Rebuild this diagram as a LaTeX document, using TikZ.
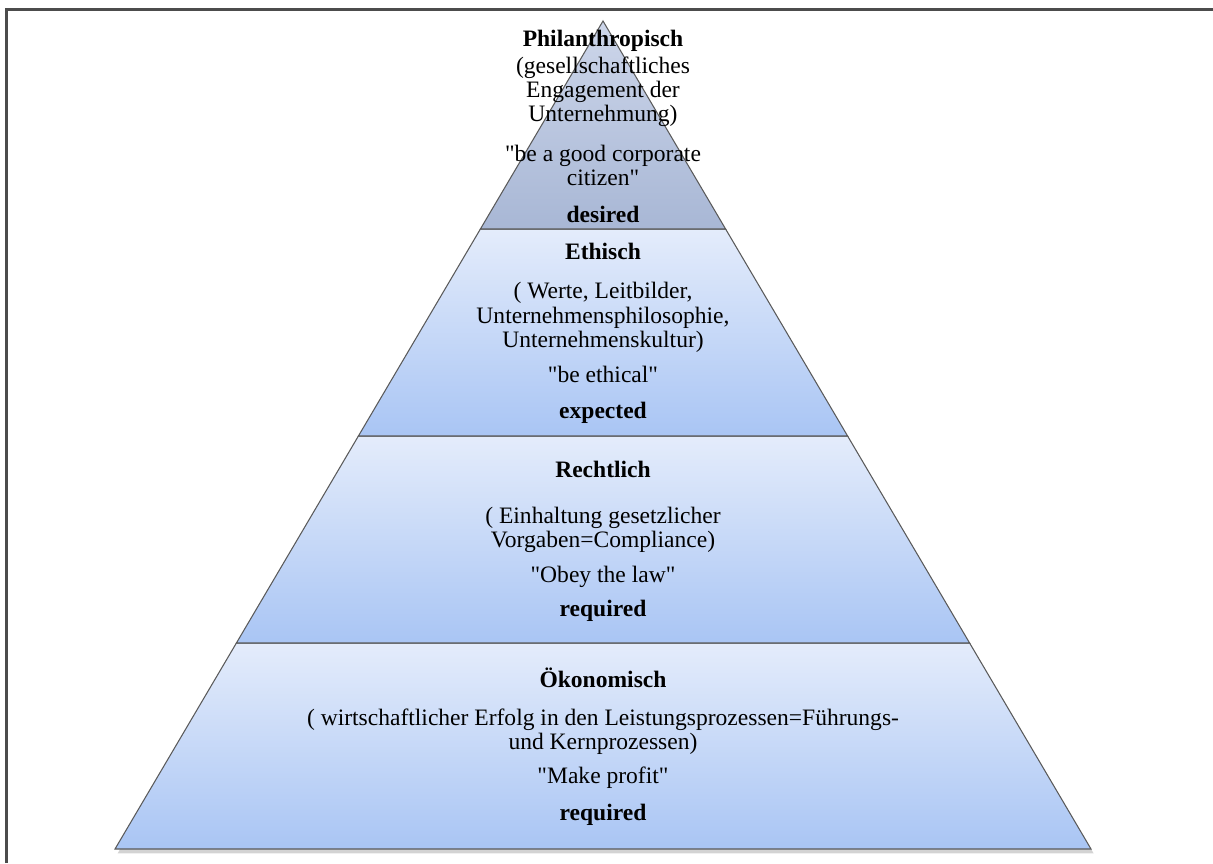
\documentclass[tikz,border=0pt]{standalone}
\usepackage{fontspec}
\setmainfont{Liberation Serif}[Ligatures=TeXOff]
\usetikzlibrary{shadows}

\definecolor{bandTop}{HTML}{E4ECFB}
\definecolor{bandBottom}{HTML}{A9C5F4}
\definecolor{tipTop}{HTML}{CDD6EA}
\definecolor{tipBottom}{HTML}{A8B7D5}
\definecolor{edgeGray}{HTML}{5A5A5A}

\begin{document}
\begin{tikzpicture}[x=0.02cm,y=-0.02cm]
    \tikzstyle{Band} = [
            draw=edgeGray,
            line width=0.6pt,
            top color=bandTop,
            bottom color=bandBottom
    ];
    \tikzstyle{Tip} = [
            Band,
            top color=tipTop,
            bottom color=tipBottom
    ];
    \tikzstyle{Frame} = [
            draw=black!70,
            line width=1.2pt
    ];
    \tikzstyle{Label} = [
            align=center,
            inner sep=0pt,
            font={\fontsize{13.4}{13.7}\selectfont}
    ];

    \useasboundingbox (0,0) rectangle (1213,863);
    \draw[Frame] (6.5,863) -- (6.5,9.5) -- (1213,9.5);

    % pyramid corners
    \coordinate (Apex) at (603,21);
    \coordinate (L1) at (480.4,229); \coordinate (R1) at (725.6,229);
    \coordinate (L2) at (358.4,436); \coordinate (R2) at (847.6,436);
    \coordinate (L3) at (236.4,643); \coordinate (R3) at (969.6,643);
    \coordinate (L4) at (115,849);   \coordinate (R4) at (1091,849);

    \shade[Band, drop shadow={opacity=0.35, shadow xshift=1.5pt, shadow yshift=-2.5pt}]
          (L3) -- (R3) -- (R4) -- (L4) -- cycle;
    \shade[Band] (L2) -- (R2) -- (R3) -- (L3) -- cycle;
    \shade[Band] (L1) -- (R1) -- (R2) -- (L2) -- cycle;
    \shade[Tip]  (Apex) -- (R1) -- (L1) -- cycle;

    \node[Label, name=Phil]   at (603,126.5) {\textbf{Philanthropisch}\\[1.5pt]
        (gesellschaftliches\\ Engagement der\\ Unternehmung)\\[9pt]
        "be a good corporate\\ citizen"\\[7.4pt] \textbf{desired}};
    \node[Label, name=Ethik]  at (603,333) {\textbf{Ethisch}\\[9pt]
        ( Werte, Leitbilder,\\ Unternehmensphilosophie,\\ Unternehmenskultur)\\[6.3pt]
        "be ethical"\\[6.8pt] \textbf{expected}};
    \node[Label, name=Recht]  at (603,541.5) {\textbf{Rechtlich}\\[12pt]
        ( Einhaltung gesetzlicher\\ Vorgaben=Compliance)\\[6.3pt]
        "Obey the law"\\[5.7pt] \textbf{required}};
    \node[Label, name=Oekon]  at (603,747) {\textbf{Ökonomisch}\\[8pt]
        ( wirtschaftlicher Erfolg in den Leistungsprozessen=Führungs-\\ und Kernprozessen)\\[5.7pt]
        "Make profit"\\[7.4pt] \textbf{required}};
\end{tikzpicture}
\end{document}
